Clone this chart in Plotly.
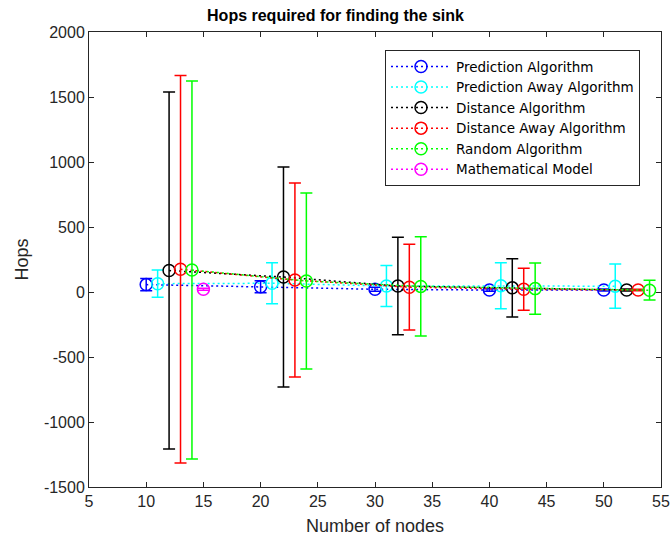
import plotly.graph_objects as go

# Data
nodes_pred = [10, 20, 30, 40, 50]
pred_mean = [57, 41, 21, 15, 15]
pred_err = [47, 46, 15, 10, 8]

nodes_pred_away = [11, 21, 31, 41, 51]
pred_away_mean = [64, 67, 46, 48, 45]
pred_away_err = [105, 158, 158, 177, 170]

nodes_dist = [12, 22, 32, 42, 52]
dist_mean = [165, 115, 46, 32, 15]
dist_err = [1373, 846, 375, 224, 8]

nodes_dist_away = [13, 23, 33, 43, 53]
dist_away_mean = [175, 92, 37, 21, 15]
dist_away_err = [1490, 746, 330, 162, 6]

nodes_rand = [14, 24, 34, 44, 54]
rand_mean = [169, 85, 43, 26, 14]
rand_err = [1454, 677, 382, 198, 76]

nodes_math = [15]
math_mean = [21]
math_err = [8]

x_tick_vals = [5, 10, 15, 20, 25, 30, 35, 40, 45, 50, 55]
x_tick_labels = ["5", "10", "15", "20", "25", "30", "35", "40", "45", "50", "55"]
y_tick_vals = [-1500, -1000, -500, 0, 500, 1000, 1500, 2000]
y_tick_labels = ["-1500", "-1000", "-500", "0", "500", "1000", "1500", "2000"]

series = [
    ("Prediction Algorithm", nodes_pred, pred_mean, pred_err, "#0000ff"),
    ("Prediction Away Algorithm", nodes_pred_away, pred_away_mean, pred_away_err, "#00ffff"),
    ("Distance Algorithm", nodes_dist, dist_mean, dist_err, "#000000"),
    ("Distance Away Algorithm", nodes_dist_away, dist_away_mean, dist_away_err, "#ff0000"),
    ("Random Algorithm", nodes_rand, rand_mean, rand_err, "#00ff00"),
    ("Mathematical Model", nodes_math, math_mean, math_err, "#ff00ff"),
]

FONT = "Liberation Sans, Arial, sans-serif"

fig = go.Figure()
for name, xs, ys, es, col in series:
    fig.add_trace(go.Scatter(
        x=xs, y=ys, name=name, mode="lines+markers",
        line=dict(color=col, width=1.5, dash="2px,3px"),
        marker=dict(symbol="circle-open", size=12, color=col, line=dict(width=1.5, color=col)),
        error_y=dict(type="data", array=es, visible=True, color=col, thickness=1.5, width=6),
    ))

axis_common = dict(
    showline=True, linecolor="#262626", linewidth=1, mirror="ticks",
    ticks="inside", ticklen=5, tickcolor="#262626", showgrid=False, zeroline=False,
    tickfont=dict(family=FONT, size=16, color="#262626"), automargin=False,
)

fig.update_layout(
    width=671, height=541,
    paper_bgcolor="white", plot_bgcolor="white",
    margin=dict(l=89, r=10, t=32, b=54),
    title=dict(text="<b>Hops required for finding the sink</b>", x=0.5, xanchor="center",
               y=1 - 15 / 541, yanchor="middle",
               font=dict(family=FONT, size=16, color="black")),
    xaxis=dict(range=[5, 55], tickvals=x_tick_vals, ticktext=x_tick_labels,
               title=dict(text="Number of nodes", standoff=10,
                          font=dict(family=FONT, size=18, color="#262626")),
               **axis_common),
    yaxis=dict(range=[-1500, 2000], tickvals=y_tick_vals, ticktext=y_tick_labels,
               title=dict(text="Hops", standoff=10,
                          font=dict(family=FONT, size=18, color="#262626")),
               **axis_common),
    legend=dict(x=0.5175, y=0.96, xanchor="left", yanchor="top",
                bgcolor="white", bordercolor="#262626", borderwidth=1,
                font=dict(family="DejaVu Sans, sans-serif", size=13.5, color="black"),
                tracegroupgap=0, itemwidth=60),
    showlegend=True,
)

fig.write_html("out.html", config={"displayModeBar": False},
               post_script="document.body.style.margin='0';document.body.style.overflow='hidden';")
